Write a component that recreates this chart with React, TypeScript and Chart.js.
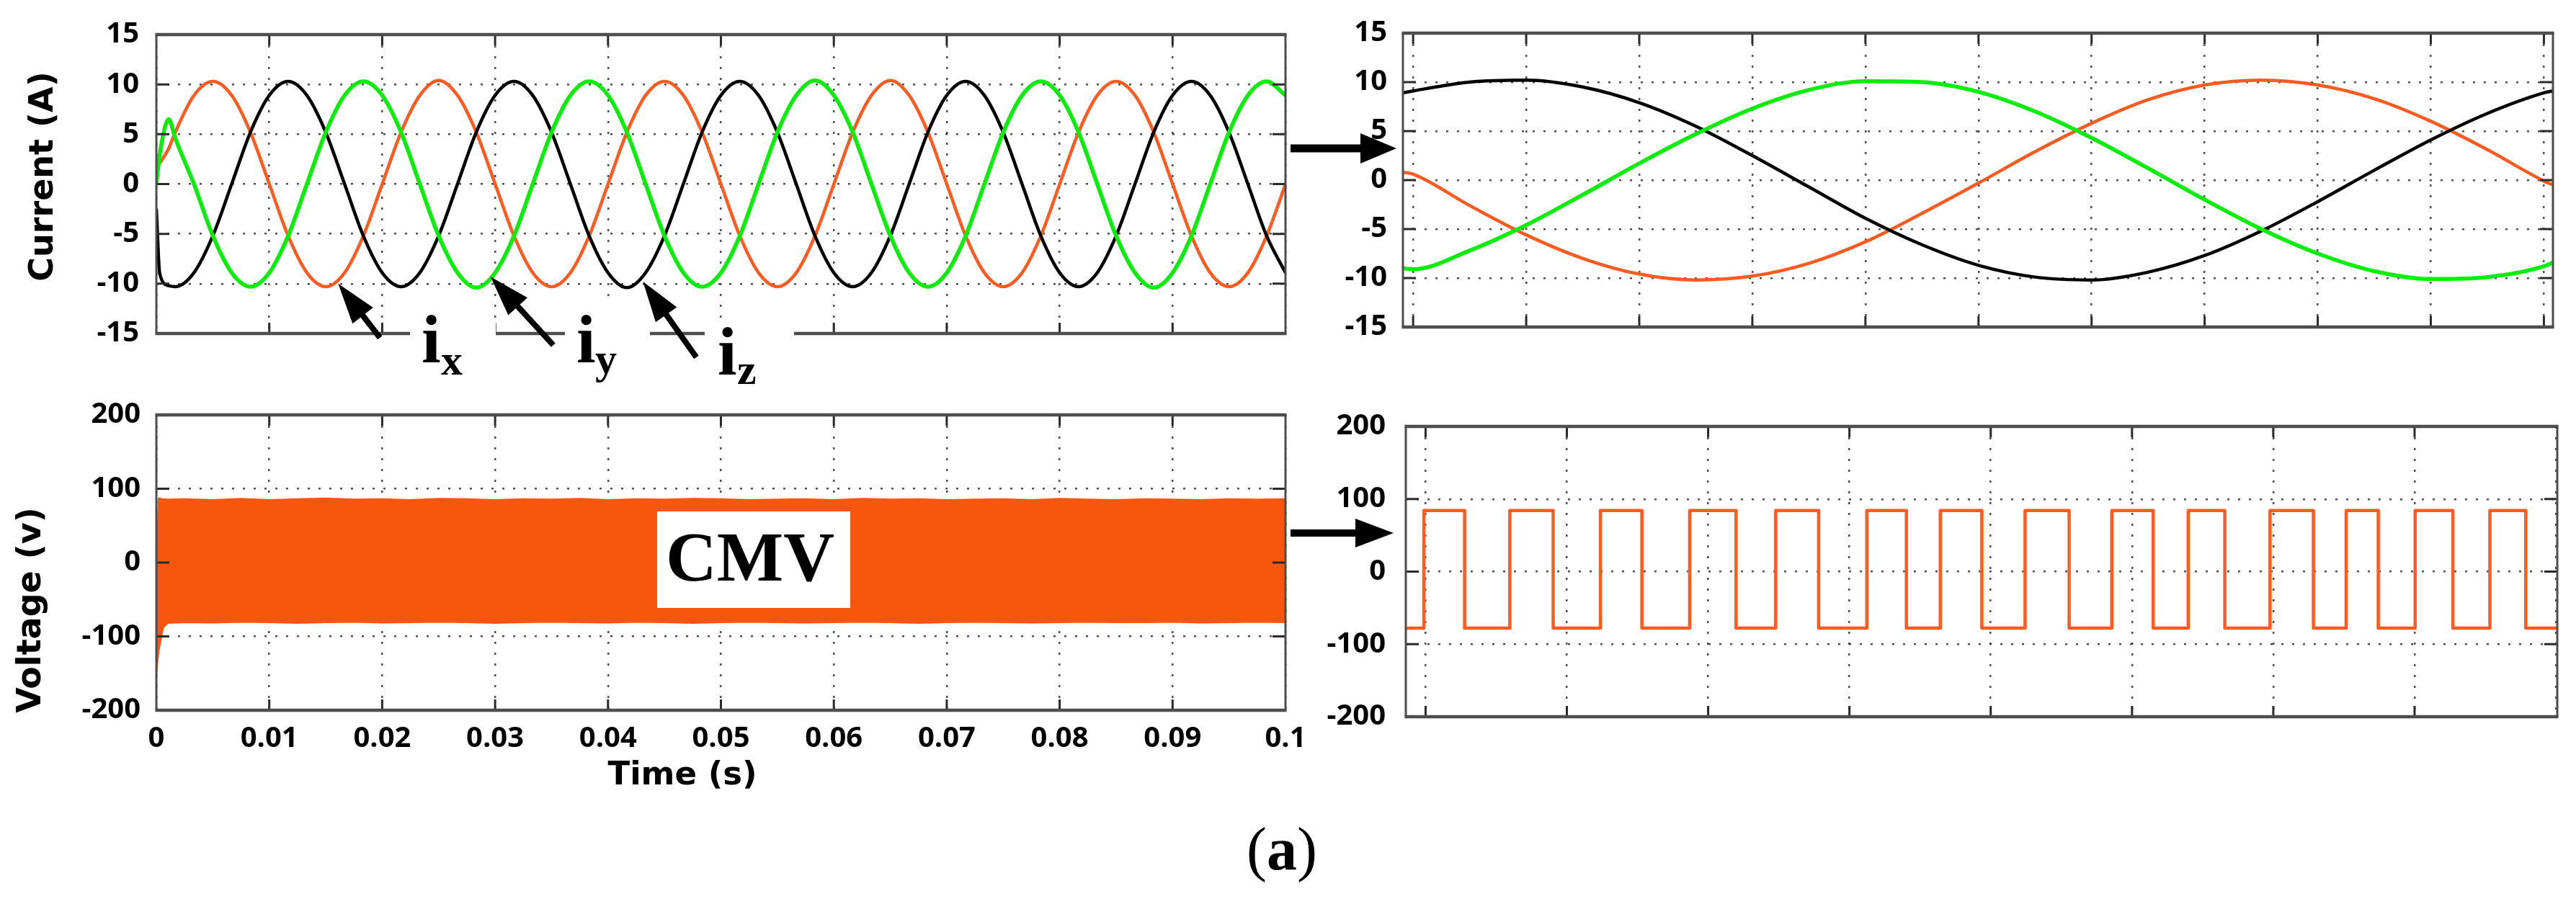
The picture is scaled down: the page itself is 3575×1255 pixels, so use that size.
import React, { useEffect, useRef } from 'react';
import { Chart, registerables } from 'chart.js';

Chart.register(...registerables);

// ---------------- data ----------------
// Top-left: three-phase currents (A) vs time (s)
const tCurrent = [0, 0.0003, 0.0011, 0.00167, 0.00333, 0.005, 0.00667, 0.00833, 0.01, 0.01167, 0.01333, 0.015, 0.01667, 0.01833, 0.02, 0.02167, 0.02333, 0.025, 0.02667, 0.02833, 0.03, 0.03167, 0.03333, 0.035, 0.03667, 0.03833, 0.04, 0.04167, 0.04333, 0.045, 0.04667, 0.04833, 0.05, 0.05167, 0.05333, 0.055, 0.05667, 0.05833, 0.06, 0.06167, 0.06333, 0.065, 0.06667, 0.06833, 0.07, 0.07167, 0.07333, 0.075, 0.07667, 0.07833, 0.08, 0.08167, 0.08333, 0.085, 0.08667, 0.08833, 0.09, 0.09167, 0.09333, 0.095, 0.09667, 0.09833, 0.1];
const ix = [1.6, 2.1, 3.6,
  5.2, 8.9, 10.3, 8.9, 5.2, 0, -5.2, -8.9, -10.3, -8.9, -5.2, 0,
  5.2, 8.9, 10.4, 8.9, 5.2, 0, -5.2, -8.9, -10.3, -8.9, -5.2, 0,
  5.2, 8.9, 10.3, 8.9, 5.2, 0, -5.2, -8.9, -10.3, -8.9, -5.2, 0,
  5.2, 8.9, 10.4, 8.9, 5.2, 0, -5.2, -8.9, -10.3, -8.9, -5.2, 0,
  5.2, 8.9, 10.3, 8.9, 5.2, 0, -5.2, -8.9, -10.3, -8.9, -5.2, 0];
const iy = [0, 3.0, 6.5,
  4.6, 0, -5.2, -8.9, -10.3, -8.9, -5.2, 0, 5.2, 8.9, 10.3, 8.9,
  5.2, 0, -5.2, -8.9, -10.4, -8.9, -5.2, 0, 5.2, 8.9, 10.3, 8.9,
  5.2, 0, -5.2, -8.9, -10.3, -8.9, -5.2, 0, 5.2, 8.9, 10.4, 8.9,
  5.2, 0, -5.2, -8.9, -10.3, -8.9, -5.2, 0, 5.2, 8.9, 10.3, 8.9,
  5.2, 0, -5.2, -8.9, -10.4, -8.9, -5.2, 0, 5.2, 8.9, 10.3, 8.9];
const iz = [-2.5, -9.0, -10.2,
  -10.3, -8.9, -5.2, 0, 5.2, 8.9, 10.3, 8.9, 5.2, 0, -5.2, -8.9,
  -10.3, -8.9, -5.2, 0, 5.2, 8.9, 10.3, 8.9, 5.2, 0, -5.2, -8.9,
  -10.4, -8.9, -5.2, 0, 5.2, 8.9, 10.3, 8.9, 5.2, 0, -5.2, -8.9,
  -10.3, -8.9, -5.2, 0, 5.2, 8.9, 10.3, 8.9, 5.2, 0, -5.2, -8.9,
  -10.3, -8.9, -5.2, 0, 5.2, 8.9, 10.3, 8.9, 5.2, 0, -5.2, -8.9];

// Bottom-left: CMV envelope (V) vs time (s)
const tCmv = [0, 0.0002, 0.0006, 0.001, 0.0025, 0.005, 0.0075, 0.01, 0.0125, 0.015, 0.0175, 0.02, 0.0225, 0.025, 0.0275, 0.03, 0.0325, 0.035, 0.0375, 0.04, 0.0425, 0.045, 0.0475, 0.05, 0.0525, 0.055, 0.0575, 0.06, 0.0625, 0.065, 0.0675, 0.07, 0.0725, 0.075, 0.0775, 0.08, 0.0825, 0.085, 0.0875, 0.09, 0.0925, 0.095, 0.0975, 0.1];
const cmvUpper = [4, 87, 86, 85.5, 86, 85, 86.5, 85, 86, 87, 85.5, 86, 85, 86.5, 86, 85, 86, 85.5, 86.5, 85, 86, 85.5, 86.5, 86, 85, 85.5, 86, 85, 86.5, 85.5, 86, 85, 85.5, 86, 85, 86.5, 85.5, 85, 86, 85.5, 85, 86, 85.5, 86];
const cmvLower = [-151, -120, -88, -82, -81, -81.5, -80.5, -81, -82, -81, -80.5, -81.5, -81, -80.5, -81, -82, -81, -80.5, -81, -81.5, -80.5, -81, -82, -81, -80.5, -81, -81.5, -81, -80.5, -81, -82, -81, -80.5, -81, -81.5, -81, -80.5, -81, -81, -80.5, -81.5, -81, -80.5, -81];

// Top-right: zoomed currents (A) vs grid divisions
const uZoom = [-0.09, 0, 0.5, 1, 1.5, 2, 2.5, 3, 3.5, 4, 4.5, 5, 5.5, 6, 6.5, 7, 7.5, 8, 8.5, 9, 9.5, 10, 10.08];
const ixZoom = [0.8, 0.6, -2.6, -5.6, -8.0, -9.6, -10.2, -9.8, -8.5, -6.3, -3.4, -0.3, 2.9, 5.8, 8.2, 9.7, 10.2, 9.7, 8.3, 6.0, 3.1, -0.1, -0.5];
const iyZoom = [-9.0, -9.1, -7.2, -4.6, -1.5, 1.7, 4.7, 7.3, 9.2, 10.1, 10.0, 9.0, 7.0, 4.3, 1.2, -2.0, -5.0, -7.5, -9.3, -10.1, -9.9, -8.8, -8.4];
const izZoom = [8.9, 9.1, 10.0, 10.2, 9.5, 7.9, 5.5, 2.5, -0.7, -3.9, -6.6, -8.7, -9.9, -10.2, -9.4, -7.7, -5.2, -2.2, 1.0, 4.1, 6.8, 8.9, 9.1];

// Bottom-right: zoomed CMV square wave (V), transition points in grid divisions
const uCmvZoom = [-0.14, -0.012, 0.276, 0.596, 0.903, 1.237, 1.531, 1.869, 2.197, 2.478, 2.782, 3.123, 3.403, 3.643, 3.937, 4.243, 4.555, 4.857, 5.15, 5.398, 5.657, 5.977, 6.284, 6.516, 6.743, 7.004, 7.271, 7.533, 7.787, 8.01];
const cmvZoom = [-78, 84, -78, 84, -78, 84, -78, 84, -78, 84, -78, 84, -78, 84, -78, 84, -78, 84, -78, 84, -78, 84, -78, 84, -78, 84, -78, 84, -78, -78];

// axis ranges / ticks
const currentRange = [-15, 15, 5];
const voltageRange = [-200, 200, 100];
const timeRange = [0, 0.1, 0.01];
const zoomTopRange = [-0.09, 10.08, 1];
const zoomBottomRange = [-0.14, 8.01, 1];

// ---------------- styling ----------------
const ORANGE = '#FF5A1F';
const BAND = '#F8560F';
const GREEN = '#08EE08';
const BLACK = '#000000';
const GRID = 'rgba(60,60,60,0.9)';
const FRAME = '#4d4d4d';
const TICKC = '#2a2a2a';
const tickFont = { family: '"Open Sans", "DejaVu Sans", sans-serif', size: 40, weight: 'bold' as const };

const pts = (xs: number[], ys: number[]) => xs.map((x, i) => ({ x, y: ys[i] }));

function drawArrow(ctx: CanvasRenderingContext2D, x0: number, y0: number, x1: number, y1: number, headLen: number, headHalf: number, shaftW: number) {
  const ang = Math.atan2(y1 - y0, x1 - x0);
  const c = Math.cos(ang), s = Math.sin(ang);
  const bx = x1 - headLen * c, by = y1 - headLen * s;
  ctx.strokeStyle = '#000';
  ctx.fillStyle = '#000';
  ctx.lineWidth = shaftW;
  ctx.lineCap = 'butt';
  ctx.setLineDash([]);
  ctx.beginPath();
  ctx.moveTo(x0, y0);
  ctx.lineTo(bx + 3 * c, by + 3 * s);
  ctx.stroke();
  ctx.beginPath();
  ctx.moveTo(x1, y1);
  ctx.lineTo(bx - headHalf * s, by + headHalf * c);
  ctx.lineTo(bx + headHalf * s, by - headHalf * c);
  ctx.closePath();
  ctx.fill();
}

function rotText(ctx: CanvasRenderingContext2D, text: string, x: number, y: number, font: string) {
  ctx.save();
  ctx.translate(x, y);
  ctx.rotate(-Math.PI / 2);
  ctx.font = font;
  ctx.fillStyle = '#000';
  ctx.textAlign = 'center';
  ctx.textBaseline = 'middle';
  ctx.fillText(text, 0, 0);
  ctx.restore();
}

function decorPlugin(originX: number, originY: number, extra?: (ctx: CanvasRenderingContext2D, chart: any) => void) {
  return {
    id: 'decor',
    afterDraw(chart: any) {
      const ctx = chart.ctx as CanvasRenderingContext2D;
      const a = chart.chartArea;
      const xs = chart.scales.x, ys = chart.scales.y;
      ctx.save();
      ctx.setLineDash([]);
      ctx.strokeStyle = TICKC;
      ctx.lineWidth = 3;
      ctx.beginPath();
      for (const t of xs.ticks) {
        const px = xs.getPixelForValue(t.value);
        if (px <= a.left + 3 || px >= a.right - 3) continue;
        ctx.moveTo(px, a.bottom); ctx.lineTo(px, a.bottom - 15);
        ctx.moveTo(px, a.top); ctx.lineTo(px, a.top + 15);
      }
      for (const t of ys.ticks) {
        const py = ys.getPixelForValue(t.value);
        if (py <= a.top + 3 || py >= a.bottom - 3) continue;
        ctx.moveTo(a.left, py); ctx.lineTo(a.left + 18, py);
        ctx.moveTo(a.right, py); ctx.lineTo(a.right - 18, py);
      }
      ctx.stroke();
      ctx.strokeStyle = FRAME;
      ctx.lineWidth = 4.5;
      ctx.beginPath();
      ctx.moveTo(a.left - 1.5, a.top); ctx.lineTo(a.right + 1.5, a.top);
      ctx.moveTo(a.left - 1.5, a.bottom); ctx.lineTo(a.right + 1.5, a.bottom);
      ctx.stroke();
      ctx.lineWidth = 3;
      ctx.beginPath();
      ctx.moveTo(a.left, a.top); ctx.lineTo(a.left, a.bottom);
      ctx.moveTo(a.right, a.top); ctx.lineTo(a.right, a.bottom);
      ctx.stroke();
      if (extra) {
        ctx.translate(-originX, -originY);
        extra(ctx, chart);
      }
      ctx.restore();
    },
  };
}

function makeOptions(p: any) {
  return {
    animation: false,
    responsive: false,
    maintainAspectRatio: false,
    devicePixelRatio: 1,
    events: [],
    layout: { padding: p.padding },
    plugins: { legend: { display: false }, tooltip: { enabled: false }, title: { display: false } },
    elements: { point: { radius: 0, hoverRadius: 0 }, line: { borderJoinStyle: 'round' } },
    scales: {
      x: {
        type: 'linear',
        min: p.x[0], max: p.x[1],
        ticks: {
          stepSize: p.x[2], includeBounds: false, display: !!p.xLabels, padding: p.xLabelPad || 0,
          font: tickFont, color: '#000', maxRotation: 0, minRotation: 0, autoSkip: false,
          callback: (v: number) => String(Math.round(v * 100) / 100),
        },
        grid: { color: GRID, lineWidth: 2.5, drawTicks: false },
        border: { display: false, dash: [3, 12] },
        afterFit: (s: any) => { s.height = p.xHeight; },
      },
      y: {
        type: 'linear',
        min: p.y[0], max: p.y[1],
        ticks: { stepSize: p.y[2], includeBounds: false, padding: p.yLabelPad, font: tickFont, color: '#000', autoSkip: false },
        grid: { color: GRID, lineWidth: 2.5, drawTicks: false },
        border: { display: false, dash: [3, 12] },
        afterFit: (s: any) => { s.width = p.yWidth; },
      },
    },
  };
}

function phaseDatasets(t: number[], a: number[], b: number[], c: number[]) {
  return [
    { data: pts(t, b), borderColor: GREEN, borderWidth: 5.5, cubicInterpolationMode: 'monotone', fill: false },
    { data: pts(t, c), borderColor: BLACK, borderWidth: 4.5, cubicInterpolationMode: 'monotone', fill: false },
    { data: pts(t, a), borderColor: ORANGE, borderWidth: 4.5, cubicInterpolationMode: 'monotone', fill: false },
  ];
}

export default function App() {
  const rTL = useRef<HTMLCanvasElement>(null);
  const rBL = useRef<HTMLCanvasElement>(null);
  const rTR = useRef<HTMLCanvasElement>(null);
  const rBR = useRef<HTMLCanvasElement>(null);

  useEffect(() => {
    document.body.style.margin = '0';
    document.body.style.overflow = 'hidden';
    const charts: Chart[] = [];

    // top-left
    charts.push(new Chart(rTL.current as HTMLCanvasElement, {
      type: 'line',
      data: { datasets: phaseDatasets(tCurrent, ix, iy, iz) as any },
      options: makeOptions({ padding: { top: 38, right: 16, left: 0, bottom: 0 }, x: timeRange, y: currentRange, yWidth: 217, xHeight: 97, yLabelPad: 24 }) as any,
      plugins: [decorPlugin(0, 0, (ctx, chart) => {
        const xs = chart.scales.x, ys = chart.scales.y;
        ctx.fillStyle = '#fff';
        ctx.fillRect(569, 445, 119, 95);
        ctx.fillRect(784, 420, 118, 120);
        ctx.fillRect(978, 445, 124, 100);
        const tips = [[0.0161, -10.0, 58, 75], [0.0296, -9.3, 87, 95], [0.0431, -9.8, 74, 105]];
        for (const [t, v, dx, dy] of tips) {
          const px = xs.getPixelForValue(t), py = ys.getPixelForValue(v);
          drawArrow(ctx, px + dx, py + dy, px, py, 56, 18, 8);
        }
        ctx.fillStyle = '#000';
        ctx.textAlign = 'left';
        ctx.textBaseline = 'alphabetic';
        ctx.font = 'bold 96px "Liberation Serif", serif';
        ctx.fillText('i', 585, 503);
        ctx.fillText('i', 800, 503);
        ctx.fillText('i', 996, 520);
        ctx.font = 'bold 60px "Liberation Serif", serif';
        ctx.fillText('x', 612, 520);
        ctx.fillText('y', 826, 518);
        ctx.fillText('z', 1023, 533);
        rotText(ctx, 'Current (A)', 61, 245, 'bold 46px "DejaVu Sans", sans-serif');
      })],
    }));

    // bottom-left
    charts.push(new Chart(rBL.current as HTMLCanvasElement, {
      type: 'line',
      data: {
        datasets: [
          { data: pts(tCmv, cmvUpper), borderColor: BAND, backgroundColor: BAND, borderWidth: 2, fill: '+1', tension: 0 },
          { data: pts(tCmv, cmvLower), borderColor: BAND, backgroundColor: BAND, borderWidth: 2, fill: false, tension: 0 },
        ] as any,
      },
      options: makeOptions({ padding: { top: 31, right: 66, left: 0, bottom: 0 }, x: timeRange, y: voltageRange, yWidth: 217, xHeight: 144, yLabelPad: 22, xLabels: true, xLabelPad: 16 }) as any,
      plugins: [decorPlugin(0, 530, (ctx) => {
        ctx.fillStyle = '#fff';
        ctx.fillRect(912, 710, 268, 134);
        ctx.fillStyle = '#000';
        ctx.textAlign = 'center';
        ctx.textBaseline = 'alphabetic';
        ctx.font = 'bold 98px "Liberation Serif", serif';
        ctx.fillText('CMV', 1041, 806);
        ctx.font = 'bold 45px "DejaVu Sans", sans-serif';
        ctx.fillText('Time (s)', 947, 1089);
        rotText(ctx, 'Voltage (v)', 44, 847, 'bold 46px "DejaVu Sans", sans-serif');
      })],
    }));

    // top-right
    charts.push(new Chart(rTR.current as HTMLCanvasElement, {
      type: 'line',
      data: { datasets: phaseDatasets(uZoom, ixZoom, iyZoom, izZoom) as any },
      options: makeOptions({ padding: { top: 33, right: 32, left: 0, bottom: 0 }, x: zoomTopRange, y: currentRange, yWidth: 161, xHeight: 86, yLabelPad: 22 }) as any,
      plugins: [decorPlugin(1786, 0, (ctx) => {
        drawArrow(ctx, 1791, 206, 1938, 206, 50, 21, 11);
      })],
    }));

    // bottom-right
    charts.push(new Chart(rBR.current as HTMLCanvasElement, {
      type: 'line',
      data: {
        datasets: [
          { data: pts(uCmvZoom, cmvZoom), borderColor: ORANGE, borderWidth: 4.5, stepped: 'before', fill: false },
        ] as any,
      },
      options: makeOptions({ padding: { top: 35, right: 26, left: 0, bottom: 0 }, x: zoomBottomRange, y: voltageRange, yWidth: 165, xHeight: 85, yLabelPad: 28 }) as any,
      plugins: [decorPlugin(1786, 540, (ctx) => {
        drawArrow(ctx, 1791, 740, 1934, 740, 53, 20, 10);
      })],
    }));

    return () => { charts.forEach((c) => c.destroy()); };
  }, []);

  return (
    <div style={{ position: 'relative', width: 3575, height: 1255, background: '#fff', overflow: 'hidden' }}>
      <canvas ref={rTL} width={1800} height={560} style={{ position: 'absolute', left: 0, top: 0 }} />
      <canvas ref={rBL} width={1850} height={600} style={{ position: 'absolute', left: 0, top: 530 }} />
      <canvas ref={rTR} width={1789} height={540} style={{ position: 'absolute', left: 1786, top: 0 }} />
      <canvas ref={rBR} width={1789} height={540} style={{ position: 'absolute', left: 1786, top: 540 }} />
      <div style={{ position: 'absolute', left: 1579, top: 1137, width: 400, textAlign: 'center', fontFamily: '"Liberation Serif", "Times New Roman", serif', fontSize: 84, lineHeight: 1, color: '#000' }}>
        (<b>a</b>)
      </div>
    </div>
  );
}
